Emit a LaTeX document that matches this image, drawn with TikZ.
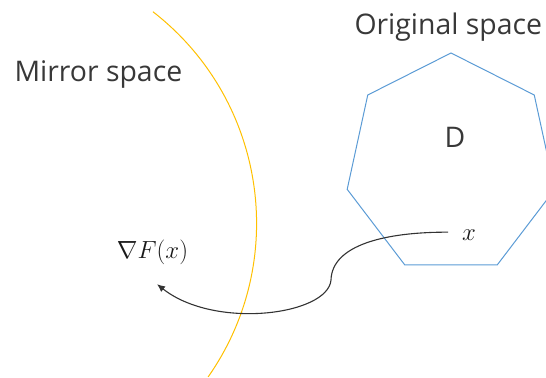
\documentclass[tikz,border=0pt]{standalone}
\usepackage{fontspec}
\setmainfont{Open Sans}
\usetikzlibrary{arrows.meta}
\definecolor{mirroryellow}{HTML}{FFC000}
\definecolor{origblue}{HTML}{5B9BD5}
\begin{document}
\begin{tikzpicture}[x=1bp, y=1bp, line width=1bp,
  lbl/.style={inner sep=0pt, text=black!78, font=\fontsize{28.5}{32}\selectfont},
  mathlbl/.style={inner sep=0pt, text=black!90, font=\fontsize{31}{35}\selectfont},
  flow/.style={draw=black!80, line width=1.1bp, -{Latex[length=8bp,width=7bp]}}]
  \clip (0,0) rectangle (546,377);
  % mirror boundary and the domain
  \draw[mirroryellow] (152.9,365.3) arc[start angle=52.2, end angle=-35, radius=267.8bp];
  \begin{scope}[shift={(451,212.5)}, xscale=0.955]
    \draw[origblue] (90:111.5) \foreach \k in {1,...,6} {-- ({90+\k*360/7}:111.5)} -- cycle;
  \end{scope}
  \node[lbl, anchor=base west] (mirror) at (14,295.5) {Mirror space};
  \node[lbl, anchor=base west] (orig) at (354,343) {Original space};
  \node[lbl, anchor=base] (dom) at (455,230) {D};
  \node[mathlbl, anchor=base] (xpt) at (469,137) {$x$};
  \node[mathlbl, anchor=base] (grad) at (152.5,118.5) {$\nabla F(x)$};
  \draw[flow] ([shift={(-13.5,2.5)}]xpt.west) .. controls (385,145) and (332,132) .. (331,97)
    .. controls (328,62) and (215,47) .. ([shift={(4.5,-19)}]grad.south);
\end{tikzpicture}
\end{document}
